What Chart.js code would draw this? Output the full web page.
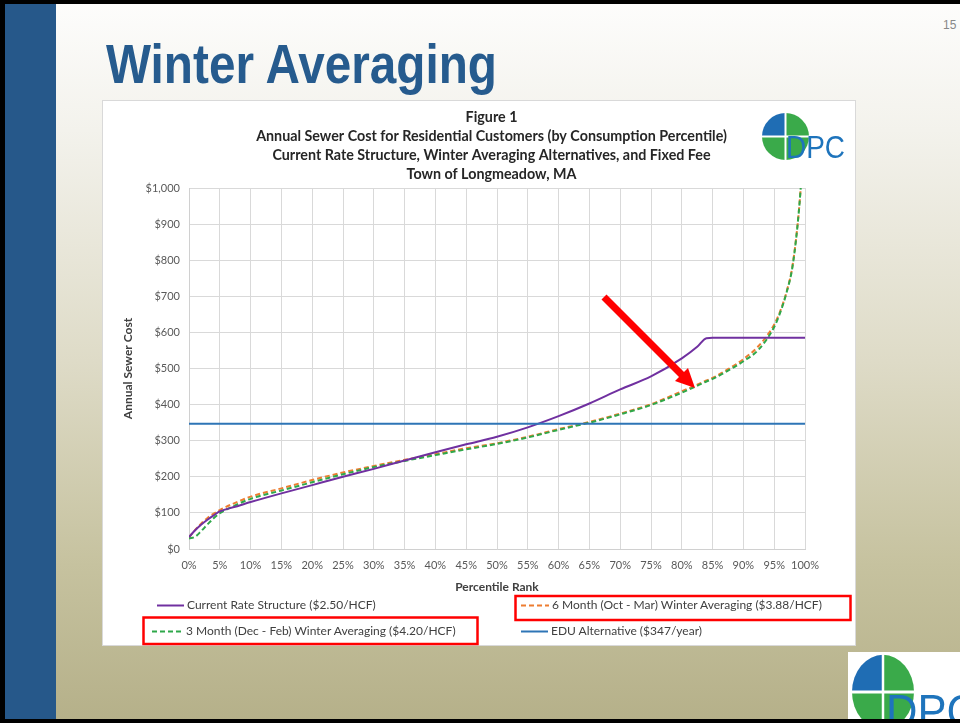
<!DOCTYPE html>
<html>
<head>
<meta charset="utf-8">
<script src="https://cdn.jsdelivr.net/npm/chart.js@4.4.0/dist/chart.umd.min.js"></script>
<style>
html,body{margin:0;padding:0;}
body{width:960px;height:723px;position:relative;overflow:hidden;
  background:linear-gradient(180deg,#FDFDFC 0%,#F3F2EC 18%,#DEDBC7 50%,#C6C29F 78%,#B5B089 100%);
  font-family:Lato,"Liberation Sans",sans-serif;}
#frameTop{position:absolute;left:0;top:0;width:960px;height:4px;background:#000;}
#frameLeft{position:absolute;left:0;top:0;width:5px;height:723px;background:#000;}
#frameBottom{position:absolute;left:0;top:719px;width:960px;height:4px;background:#000;}
#sideBar{position:absolute;left:5px;top:4px;width:51px;height:715px;background:#26588A;}
#pageTitle{position:absolute;left:106px;top:37px;font-family:"Liberation Sans Narrow","Arial Narrow","Liberation Sans",sans-serif;
  font-weight:bold;font-size:55px;line-height:55px;color:#265B8E;white-space:nowrap;transform-origin:0 0;}
#pageNum{position:absolute;left:943px;top:18px;font-family:"Liberation Sans Narrow","Liberation Sans",sans-serif;font-size:12px;color:#888;}
#panel{position:absolute;left:102px;top:100px;width:752px;height:544px;background:#fff;border:1px solid #D9D9D9;}
#chartWrap{position:absolute;left:121px;top:100px;width:741px;height:545px;}
#legend{position:absolute;left:0;top:0;width:960px;height:723px;pointer-events:none;}
.lg{position:absolute;font-size:12px;color:#404040;white-space:nowrap;line-height:14px;}
.lg svg{position:absolute;top:0;}
#overlay{position:absolute;left:0;top:0;}
#logo2box{position:absolute;left:848px;top:652px;width:112px;height:67px;background:#fff;overflow:hidden;}
</style>
</head>
<body>
<div id="sideBar"></div>
<div id="pageTitle">Winter Averaging</div>
<div id="pageNum">15</div>
<div id="panel"></div>
<div id="chartWrap"><canvas id="c" width="741" height="545"></canvas></div>
<div id="legend"></div>
<svg id="overlay" width="960" height="723">
  <!-- chart logo -->
  <g transform="translate(785.5,136.5)">
    <path d="M0,0 L-23.5,0 A23.5,23.5 0 0 1 0,-23.5 Z" fill="#1F6DB4"/>
    <path d="M0,0 L0,-23.5 A23.5,23.5 0 0 1 23.5,0 Z" fill="#3AAA4A"/>
    <path d="M0,0 L-23.5,0 A23.5,23.5 0 0 0 0,23.5 Z" fill="#3AAA4A"/>
    <path d="M0,0 L23.5,0 A23.5,23.5 0 0 1 0,23.5 Z" fill="#3AAA4A"/>
    <line x1="-24" y1="0" x2="24" y2="0" stroke="#fff" stroke-width="2"/>
    <line x1="0" y1="-24" x2="0" y2="24" stroke="#fff" stroke-width="2"/>
  </g>
  <text x="786" y="158" font-family="Liberation Sans, sans-serif" font-size="31" fill="#1E74BC" textLength="59" lengthAdjust="spacingAndGlyphs">DPC</text>
  <!-- red highlight boxes -->
  <rect x="515.5" y="596" width="335" height="24" fill="none" stroke="#FF0000" stroke-width="2.5"/>
  <rect x="143.5" y="617.5" width="334" height="26.5" fill="none" stroke="#FF0000" stroke-width="2.5"/>
  <!-- red arrow -->
  <line x1="604" y1="297" x2="683" y2="376" stroke="#FF0000" stroke-width="7"/>
  <polygon points="695,388 675,381 688,368" fill="#FF0000"/>
</svg>
<div id="logo2box">
  <svg width="112" height="71">
    <g transform="translate(35,40) scale(1,1.2)">
      <path d="M0,0 L-31,0 A31,31 0 0 1 0,-31 Z" fill="#1F6DB4"/>
      <path d="M0,0 L0,-31 A31,31 0 0 1 31,0 Z" fill="#3AAA4A"/>
      <path d="M0,0 L-31,0 A31,31 0 0 0 0,31 Z" fill="#3AAA4A"/>
      <path d="M0,0 L31,0 A31,31 0 0 1 0,31 Z" fill="#3AAA4A"/>
      <line x1="-32" y1="0" x2="32" y2="0" stroke="#fff" stroke-width="2.5"/>
      <line x1="0" y1="-32" x2="0" y2="32" stroke="#fff" stroke-width="2.5"/>
    </g>
    <text x="38" y="75" font-family="Liberation Sans, sans-serif" font-size="46" fill="#1E74BC" textLength="92" lengthAdjust="spacingAndGlyphs">DPC</text>
  </svg>
</div>
<div id="frameTop"></div>
<div id="frameLeft"></div>
<div id="frameBottom"></div>
<script>
// ---- data ----
const chartTitleLines = [
  'Figure 1',
  'Annual Sewer Cost for Residential Customers (by Consumption Percentile)',
  'Current Rate Structure, Winter Averaging Alternatives, and Fixed Fee',
  'Town of Longmeadow, MA'
];
const xAxisTitle = 'Percentile Rank';
const yAxisTitle = 'Annual Sewer Cost';
const seriesLabels = [
  'Current Rate Structure ($2.50/HCF)',
  '6 Month (Oct - Mar) Winter Averaging ($3.88/HCF)',
  '3 Month (Dec - Feb) Winter Averaging ($4.20/HCF)',
  'EDU Alternative ($347/year)'
];
const percentiles = [0,1,2,3,4,5,7.5,10,15,20,25,30,35,40,45,50,55,60,65,70,75,80,82.5,84,85,87.5,90,92.5,95,96,97,98,99,99.5,100];
const currentRate = [33,52,68,81,93,104,117,130,154,177,200,222,245,268,290,311,337,368,403,442,478,528,560,584,585,585,585,585,585,585,585,585,585,585,585];
const sixMonth    = [32,53,71,86,98,108,128,145,168,191,212,230,247,263,279,293,311,332,352,375,401,437,455,467,474,498,526,563,622,660,712,788,935,1050,1200];
const threeMonth  = [29,34,50,68,85,99,121,139,162,185,207,227,244,260,276,291,309,330,350,373,399,433,452,464,471,494,520,553,615,656,710,785,935,1050,1200];
const eduPercentiles = [0,100];
const eduValue = [347,347];
const xTickStep = 5;   // 0% ... 100%
const yTickStep = 100; // $0 ... $1,000

const colors = ['#7030A0','#ED7D31','#2EA84A','#2E75B6'];

const toPts = (xs, ys) => xs.map((x,i)=>({x:x,y:ys[i]}));

// page title fit to the reference width
const pt = document.getElementById('pageTitle');
const w = pt.getBoundingClientRect().width;
pt.style.transform = 'scaleX(' + (391 / w) + ')';

const chart = new Chart(document.getElementById('c'), {
  type: 'line',
  data: {
    datasets: [
      {label: seriesLabels[0], data: toPts(percentiles, currentRate), borderColor: colors[0], borderWidth: 2, order: 2},
      {label: seriesLabels[1], data: toPts(percentiles, sixMonth), borderColor: colors[1], borderWidth: 2, borderDash: [5,3], order: 4},
      {label: seriesLabels[2], data: toPts(percentiles, threeMonth), borderColor: colors[2], borderWidth: 2, borderDash: [5,3], order: 3},
      {label: seriesLabels[3], data: toPts(eduPercentiles, eduValue), borderColor: colors[3], borderWidth: 2, order: 1}
    ]
  },
  options: {
    responsive: false,
    animation: false,
    events: [],
    elements: {point: {radius: 0}, line: {cubicInterpolationMode: 'monotone', fill: false}},
    layout: {padding: {left: 0, right: 0, top: 0, bottom: 46}},
    plugins: {
      legend: {display: false},
      tooltip: {enabled: false},
      title: {
        display: true,
        text: chartTitleLines,
        color: '#262626',
        font: {family: 'Lato', size: 14.3, weight: 'bold', lineHeight: '19px'},
        padding: {top: 8, bottom: 4}
      }
    },
    scales: {
      x: {
        type: 'linear', min: 0, max: 100,
        grid: {color: '#D9D9D9', drawTicks: false},
        border: {color: '#D0D0D0'},
        ticks: {stepSize: xTickStep, autoSkip: false, maxRotation: 0, padding: 10, color: '#595959',
          font: {family: 'Lato', size: 11}, callback: v => v + '%'},
        title: {display: true, text: xAxisTitle, color: '#404040', padding: {top: 0, bottom: 5},
          font: {family: 'Lato', size: 12, weight: 'bold'}},
        afterFit: s => { s.width = s.width; s.height = 50; }
      },
      y: {
        min: 0, max: 1000,
        grid: {color: '#D9D9D9', drawTicks: false},
        border: {color: '#D0D0D0'},
        ticks: {stepSize: yTickStep, padding: 9, color: '#595959',
          font: {family: 'Lato', size: 11}, callback: v => '$' + v.toLocaleString('en-US')},
        title: {display: true, text: yAxisTitle, color: '#404040', padding: {top: 0, bottom: 0},
          font: {family: 'Lato', size: 12, weight: 'bold'}},
        afterFit: s => { s.width = 68; }
      },
      // empty right-hand spacer axis so the title block centres like the reference
      yRight: {
        position: 'right', min: 0, max: 1000,
        grid: {display: false, drawOnChartArea: false},
        border: {display: false},
        ticks: {display: false},
        afterFit: s => { s.width = 57; }
      }
    }
  }
});

// legend built from the chart's datasets
const legendPos = [
  {x: 157, y: 598, lineW: 27},
  {x: 521, y: 598, lineW: 28},
  {x: 152, y: 624, lineW: 31},
  {x: 521, y: 624, lineW: 27}
];
const lg = document.getElementById('legend');
chart.data.datasets.forEach((ds, i) => {
  const p = legendPos[i];
  const d = document.createElement('div');
  d.className = 'lg';
  d.style.left = p.x + 'px';
  d.style.top = p.y + 'px';
  d.style.paddingLeft = (p.lineW + 3) + 'px';
  const dash = ds.borderDash ? 'stroke-dasharray="5,3"' : '';
  d.innerHTML = '<svg width="' + p.lineW + '" height="14" style="left:0"><line x1="0" y1="7.5" x2="' + p.lineW + '" y2="7.5" stroke="' + ds.borderColor + '" stroke-width="2" ' + dash + '/></svg>' + ds.label;
  lg.appendChild(d);
});
</script>
</body>
</html>
